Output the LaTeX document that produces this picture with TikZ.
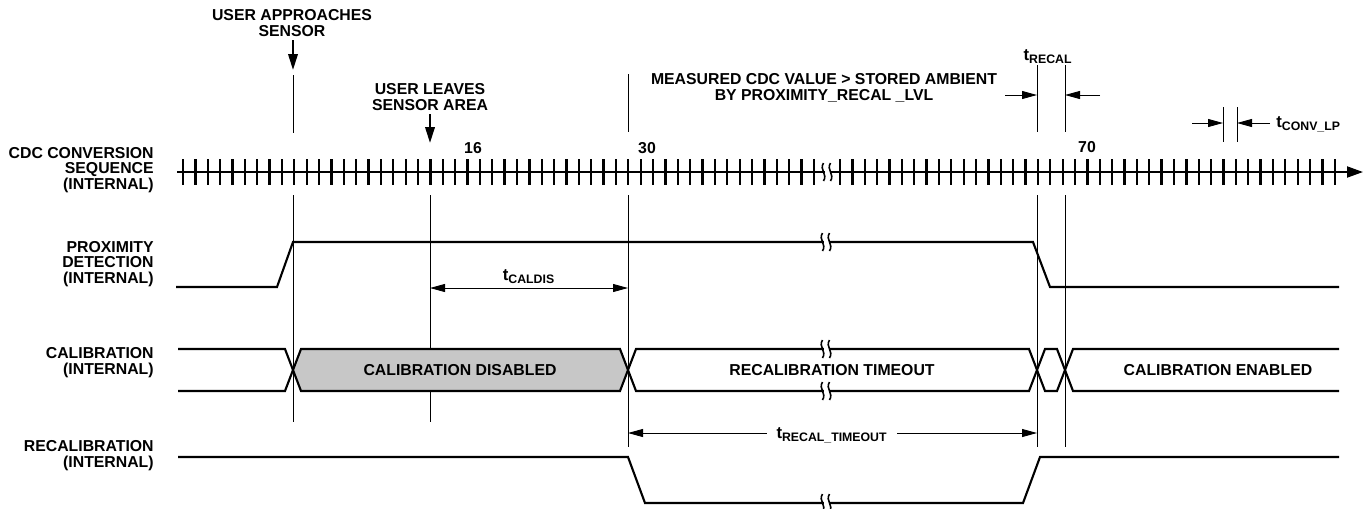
\documentclass[tikz,border=0pt]{standalone}
\usepackage{fontspec}
\setmainfont{Liberation Sans}
\usepackage{tikz}
\usetikzlibrary{arrows.meta}
\usetikzlibrary{positioning}

\newcommand{\lbl}{\fontsize{9}{9}\selectfont\bfseries}
\newcommand{\tsub}[1]{{\fontsize{9.5}{9.5}\selectfont t}\textsubscript{\fontsize{7}{7}\selectfont #1}}
% break mark on a signal line
\newcommand{\brk}[2]{%
  \fill[white] (#1-2.5,#2-9) rectangle (#1+2.5,#2+9);
  \draw[line width=0.9pt] (#1-3.5,#2-9) .. controls (#1-8,#2-2) and (#1+1,#2+2) .. (#1-3.5,#2+9);
  \draw[line width=0.9pt] (#1+3.5,#2-9) .. controls (#1-1,#2-2) and (#1+8,#2+2) .. (#1+3.5,#2+9);
}

\begin{document}
\begin{tikzpicture}[x=0.02cm, y=-0.02cm, line join=miter,
    >={Triangle[length=0.3cm,width=0.16cm]},
    every node/.style={font=\lbl, inner sep=0pt},
    sig/.style={line width=1.2pt},
    guide/.style={line width=0.5pt},
    dim/.style={line width=0.5pt},
    tickmark/.style={line width=1.3pt},
    side/.style={align=right, anchor=east},
    head/.style={align=center}]
  \useasboundingbox (0,0) rectangle (1369,508);
  %--- signal names
    \node[side] (cdc) at (154,170) {CDC CONVERSION\\SEQUENCE\\(INTERNAL)};
    \node[side] (prox) at (154,264) {PROXIMITY\\DETECTION\\(INTERNAL)};
    \node[side] (cal) at (154,363) {CALIBRATION\\(INTERNAL)};
    \node[side] (recal) at (154,456) {RECALIBRATION\\(INTERNAL)};
  %--- events
    \node[head] (approach) at (292,23) {USER APPROACHES\\SENSOR};
    \coordinate (approachtip) at (293,70);
    \draw[sig, -{Triangle[length=0.32cm,width=0.19cm]}] ([yshift=-2pt]approach.south -| approachtip) -- (approachtip);
    \node[head] (leaves) at (430,97) {USER LEAVES\\SENSOR AREA};
    \coordinate (leavestip) at (430,143);
    \draw[sig, -{Triangle[length=0.32cm,width=0.19cm]}] ([yshift=-2pt]leaves.south -| leavestip) -- (leavestip);
    \node[head] (measured) at (824,88) {MEASURED CDC VALUE > STORED AMBIENT\\BY PROXIMITY\_RECAL \_LVL};
  %--- guide lines
    \foreach \x/\a/\b in {293/75/133, 293/195/422, 430/195/422, 628/74/132, 628/195/447,
                          1037/65/132, 1037/195/447, 1065/65/132, 1065/195/447,
                          1223/107/142, 1237/107/142}
      \draw[guide] (\x,\a) -- (\x,\b);
  %--- t_RECAL
    \node[anchor=base] (trecal) at (1048,60) {\tsub{RECAL}};
    \draw[dim, ->] (1005,95) -- (1037,95);
    \draw[dim, ->] (1100,95) -- (1065,95);
  %--- t_CONV_LP
    \draw[dim, ->] (1192,123) -- (1223,123);
    \draw[dim, ->] (1270,123) -- (1237,123);
    \node[anchor=base west] (tconv) at (1276,127) {\tsub{CONV\_LP}};
  %--- CDC conversion sequence
    \draw[line width=1.1pt, -{Triangle[length=0.32cm,width=0.22cm]}] (177,172) -- (1363,172);
    \foreach \i in {0,...,51}
      \draw[tickmark] (183+\i*12.37,159) -- ++(0,26);
    \foreach \i in {0,...,40}
      \draw[tickmark] (840+\i*12.37,159) -- ++(0,26);
    \brk{827}{172}
    \node[anchor=base] (n16) at (473,153) {16};
    \node[anchor=base] (n30) at (647,153) {30};
    \node[anchor=base] (n70) at (1087,152) {70};
  %--- proximity detection
    \draw[sig] (176,287) -- (277,287) -- (293,242) -- (1033,242) -- (1050,287) -- (1339,287);
    \brk{826}{242}
    \draw[dim, <->] (430,288) -- (628,288);
    \node[anchor=base] (tcaldis) at (529,280) {\tsub{CALDIS}};
  %--- calibration
    \draw[sig] (178,349) -- (285,349) -- (293,370) -- (285,391) -- (178,391);
    \foreach \a/\b/\c in {293/628/black!22, 628/1037/white, 1037/1065/white}
      \draw[sig, fill=\c] (\a,370) -- (\a+8,349) -- (\b-8,349) -- (\b,370) -- (\b-8,391) -- (\a+8,391) -- cycle;
    \draw[sig] (1339,349) -- (1073,349) -- (1065,370) -- (1073,391) -- (1339,391);
    \brk{826}{349}
    \brk{826}{391}
    \node (caldis) at (460,370) {CALIBRATION DISABLED};
    \node (timeout) at (832,370) {RECALIBRATION TIMEOUT};
    \node (calen) at (1218,370) {CALIBRATION ENABLED};
  %--- recalibration
    \draw[dim, <->] (628,433) -- (1037,433);
    \node[anchor=base, fill=white, inner xsep=5.5pt, inner ysep=1pt] (ttimeout) at (832,438) {\tsub{RECAL\_TIMEOUT}};
    \draw[sig] (178,457) -- (628,457) -- (645,503) -- (1023,503) -- (1040,457) -- (1339,457);
    \brk{826}{503}
\end{tikzpicture}
\end{document}
